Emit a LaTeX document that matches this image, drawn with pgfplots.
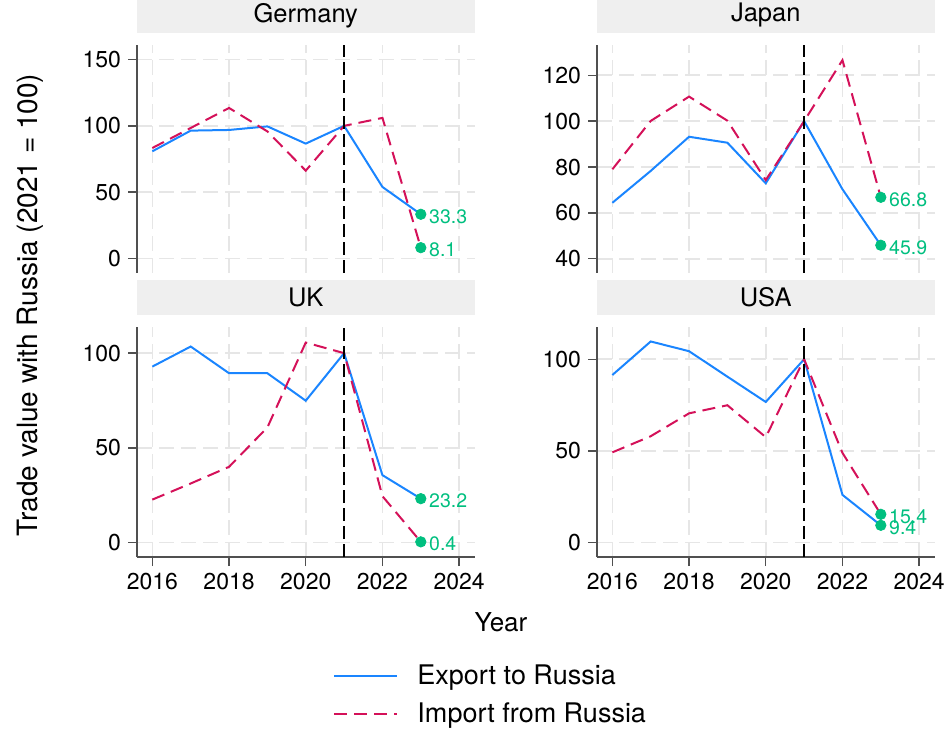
\documentclass[border=0pt]{standalone}
\usepackage{fontspec}
\setmainfont{TeX Gyre Heros}
\usepackage{pgfplots}
\pgfplotsset{compat=1.18}
\definecolor{stcone}{HTML}{1A85FF}
\definecolor{stctwo}{HTML}{D41159}
\definecolor{stcthree}{HTML}{00BF7F}
\definecolor{stripgray}{HTML}{EFEFEF}
\definecolor{gridgray}{HTML}{E6E6E6}
\definecolor{axisgray}{HTML}{505050}

\pgfplotsset{
  panel/.style={
    scale only axis, width=168.75pt,
    xmin=2015.6, xmax=2024.4,
    axis lines*=left,
    xtick={2016,2018,...,2024},
    tick align=outside,
    major tick length=4.5pt,
    tick style={axisgray, line width=0.7pt},
    axis line style={axisgray, line width=0.7pt},
    grid=major,
    major grid style={gridgray, line width=0.8pt, dash pattern=on 7.5pt off 3.5pt},
    tick label style={font=\fontsize{11.5}{13}\selectfont},
    /pgf/number format/assume math mode=true,
    /pgf/number format/1000 sep={},
    title style={font=\fontsize{12.75}{15}\selectfont, fill=stripgray, minimum width=168.75pt, minimum height=17.25pt, inner sep=0pt, anchor=south, at={(0.5,1)}, yshift=0pt},
    clip=false,
  },
  toppanel/.style={panel, xticklabels={}, xtick style={draw=none}, x axis line style={draw=none}},
  exp/.style={stcone, line width=1pt},
  imp/.style={stctwo, line width=1pt, dash pattern=on 6.5pt off 3.5pt},
  vl/.style={black, line width=0.8pt, dash pattern=on 6.5pt off 2.5pt},
  endpts/.style={only marks, mark=*, mark size=2.6pt, stcthree, nodes near coords, point meta=explicit symbolic,
    nodes near coords style={anchor=west, inner sep=0pt, xshift=4pt, yshift=-1pt, text=stcthree, font=\fontsize{9.75}{11}\selectfont}},
}

\begin{document}
\begin{tikzpicture}
\useasboundingbox (0,0) rectangle (475.5pt,367pt);

% Germany
\begin{axis}[toppanel, at={(68.5pt,230.5pt)}, anchor=south west, height=114pt,
  ymin=-11, ymax=161, ytick={0,50,100,150}, title={Germany}]
\addplot[exp] coordinates {(2016,80.8)(2017,96.4)(2018,96.9)(2019,99.6)(2020,86.6)(2021,100)(2022,53.9)(2023,33.3)};
\addplot[imp] coordinates {(2016,83.3)(2017,98.4)(2018,113.5)(2019,95.8)(2020,66.2)(2021,100)(2022,106)(2023,8.1)};
\addplot[vl] coordinates {(2021,-11)(2021,161)};
\addplot[endpts] coordinates {(2023,33.3)[33.3] (2023,8.1)[8.1]};
\end{axis}

% Japan
\begin{axis}[toppanel, at={(298.5pt,230.5pt)}, anchor=south west, height=114pt,
  ymin=33.8, ymax=133.2, ytick={40,60,...,120}, title={Japan}]
\addplot[exp] coordinates {(2016,64.4)(2017,78.3)(2018,93.2)(2019,90.6)(2020,72.9)(2021,100)(2022,70.3)(2023,45.9)};
\addplot[imp] coordinates {(2016,79.0)(2017,100.1)(2018,110.7)(2019,100.2)(2020,74.3)(2021,100)(2022,126.6)(2023,66.8)};
\addplot[vl] coordinates {(2021,33.8)(2021,133.2)};
\addplot[endpts] coordinates {(2023,66.8)[66.8] (2023,45.9)[45.9]};
\end{axis}

% UK
\begin{axis}[panel, at={(68.5pt,88.5pt)}, anchor=south west, height=115pt,
  ymin=-7.6, ymax=113.8, ytick={0,50,100}, title={UK},
  legend style={draw=none, fill=none, inner sep=0pt, row sep=7.5pt, column sep=9.5pt,
    nodes={inner sep=0pt, font=\fontsize{13.5}{15}\selectfont}, cells={anchor=west},
    at={(1.045,-0.6)}, anchor=center},
  legend image code/.code={\draw[#1] (0pt,0pt) -- (31.5pt,0pt);}]
\addplot[exp] coordinates {(2016,92.9)(2017,103.5)(2018,89.4)(2019,89.4)(2020,74.9)(2021,100)(2022,35.6)(2023,23.2)};
\addlegendentry{Export to Russia}
\addplot[imp] coordinates {(2016,22.7)(2017,31.2)(2018,40.0)(2019,60.8)(2020,105.6)(2021,100)(2022,24.5)(2023,0.4)};
\addlegendentry{Import from Russia}
\addplot[vl] coordinates {(2021,-7.6)(2021,113.8)};
\addplot[endpts] coordinates {(2023,23.2)[23.2] (2023,0.4)[0.4]};
\end{axis}

% USA
\begin{axis}[panel, at={(298.5pt,88.5pt)}, anchor=south west, height=115pt,
  ymin=-7.9, ymax=117.6, ytick={0,50,100}, title={USA}]
\addplot[exp] coordinates {(2016,91.4)(2017,109.7)(2018,104.4)(2019,90.5)(2020,76.7)(2021,100)(2022,26.0)(2023,9.4)};
\addplot[imp] coordinates {(2016,49.2)(2017,58.0)(2018,70.5)(2019,74.9)(2020,57.5)(2021,100)(2022,48.9)(2023,15.4)};
\addplot[vl] coordinates {(2021,-7.9)(2021,117.6)};
\addplot[endpts] coordinates {(2023,15.4)[15.4] (2023,9.4)[9.4]};
\end{axis}

\node[rotate=90, font=\fontsize{14}{16}\selectfont] at (15pt,214.5pt) {Trade value with Russia (2021 = 100)};
\node[font=\fontsize{13}{15}\selectfont] at (250.5pt,56pt) {Year};
\end{tikzpicture}
\end{document}
